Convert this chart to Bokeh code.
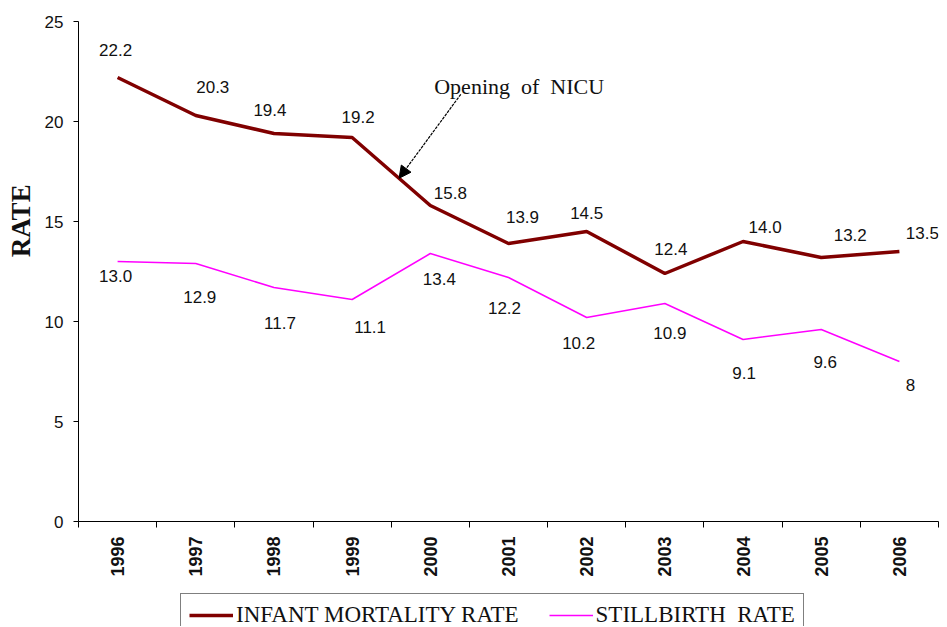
from bokeh.plotting import figure
from bokeh.layouts import column
from bokeh.models import (ColumnDataSource, Range1d, FixedTicker, Arrow, NormalHead,
                          Label, Legend, LegendItem)
from bokeh.core.properties import value
from bokeh.embed import file_html
from bokeh.resources import INLINE

# ---- data ----
years = [1996, 1997, 1998, 1999, 2000, 2001, 2002, 2003, 2004, 2005, 2006]
imr = [22.2, 20.3, 19.4, 19.2, 15.8, 13.9, 14.5, 12.4, 14.0, 13.2, 13.5]
stillbirth = [13.0, 12.9, 11.7, 11.1, 13.4, 12.2, 10.2, 10.9, 9.1, 9.6, 8]
imr_text = ["22.2", "20.3", "19.4", "19.2", "15.8", "13.9", "14.5", "12.4", "14.0", "13.2", "13.5"]
sb_text = ["13.0", "12.9", "11.7", "11.1", "13.4", "12.2", "10.2", "10.9", "9.1", "9.6", "8"]
y_ticks = [0, 5, 10, 15, 20, 25]
series_names = ["INFANT MORTALITY RATE", "STILLBIRTH\u00a0 RATE"]
y_title = "RATE"

# label placement (pixel offsets from each point)
imr_dx = [-2, 17, -4, 6, 20, 14, 0, 6, 22, 29, 23]
imr_dy = [-28, -29, -24, -21, -13, -27, -19, -25, -15, -23, -19]
sb_dx = [-2, 4, 6, 18, 9, -4, -8, 5, 1, 4, 11]
sb_dy = [14, 33, 35, 27, 25, 30, 25, 29, 33, 32, 23]

IMR_COLOR = "#800000"
SB_COLOR = "#FF00FF"
IMR_W = 3.5
SB_W = 1.5

p = figure(width=940, height=590, output_backend="svg", toolbar_location=None,
           x_range=Range1d(years[0] - 0.5, years[-1] + 0.5), y_range=Range1d(0, 25),
           min_border_left=78, min_border_right=2, min_border_top=21, min_border_bottom=69)
p.outline_line_color = None
p.xgrid.visible = False
p.ygrid.visible = False
p.background_fill_color = "white"

src_imr = ColumnDataSource(dict(x=years, y=imr, label=imr_text, dx=imr_dx, dy=imr_dy))
src_sb = ColumnDataSource(dict(x=years, y=stillbirth, label=sb_text, dx=sb_dx, dy=sb_dy))

p.line("x", "y", source=src_imr, line_color=IMR_COLOR, line_width=IMR_W)
p.line("x", "y", source=src_sb, line_color=SB_COLOR, line_width=SB_W)

p.text(x="x", y="y", text="label", x_offset="dx", y_offset="dy", source=src_imr,
       text_align="center", text_baseline="middle", text_color="#111111",
       text_font=value("Liberation Sans"), text_font_size=value("17px"))
p.text(x="x", y="y", text="label", x_offset="dx", y_offset="dy", source=src_sb,
       text_align="center", text_baseline="middle", text_color="#111111",
       text_font=value("Liberation Sans"), text_font_size=value("17px"))

# axes
p.yaxis.ticker = FixedTicker(ticks=y_ticks)
p.yaxis.major_tick_out = 5
p.yaxis.major_tick_in = 0
p.yaxis.minor_tick_line_color = None
p.yaxis.major_label_standoff = 10
p.yaxis.major_label_text_font = "Liberation Sans"
p.yaxis.major_label_text_font_size = "17px"
p.yaxis.major_label_text_color = "#111111"
p.yaxis.axis_line_color = "black"
# leading no-break spaces lift the title above the axis centre, as in the original
p.yaxis.axis_label = "\u00a0" * 15 + y_title
p.yaxis.axis_label_text_font = "Liberation Serif"
p.yaxis.axis_label_text_font_style = "bold"
p.yaxis.axis_label_text_font_size = "27px"
p.yaxis.axis_label_text_color = "#111111"
p.yaxis.axis_label_standoff = 6

p.xaxis.ticker = FixedTicker(ticks=years,
                             minor_ticks=[y - 0.5 for y in years] + [years[-1] + 0.5])
p.xaxis.major_tick_out = 0
p.xaxis.major_tick_in = 0
p.xaxis.minor_tick_out = 6
p.xaxis.minor_tick_in = 0
p.xaxis.minor_tick_line_color = "black"
p.xaxis.major_label_orientation = 3.14159265 / 2
p.xaxis.major_label_standoff = 9
p.xaxis.major_label_text_font = "Liberation Sans"
p.xaxis.major_label_text_font_style = "bold"
p.xaxis.major_label_text_font_size = "18px"
p.xaxis.major_label_text_color = "#111111"
p.xaxis.axis_line_color = "black"

# annotation: opening of NICU
head_x = years[3] + 0.6
head_y = imr[3] + 0.6 * (imr[4] - imr[3])
arrow = Arrow(x_start=head_x + 0.79, y_start=head_y + 4.2, x_end=head_x, y_end=head_y,
              line_color="black", line_width=1.2, line_dash="3 1",
              end=NormalHead(size=12, fill_color="black", line_color="black"))
p.add_layout(arrow)
p.add_layout(Label(x=head_x + 0.45, y=head_y + 4.6, text="Opening\u00a0 of\u00a0 NICU",
                   text_baseline="middle", text_align="left",
                   text_font="Liberation Serif", text_font_size="22px",
                   text_color="#111111"))

# legend strip below the chart
p2 = figure(width=940, height=36, output_backend="svg", toolbar_location=None,
            x_range=Range1d(0, 1), y_range=Range1d(0, 1),
            min_border_left=0, min_border_right=0, min_border_top=0, min_border_bottom=0)
p2.axis.visible = False
p2.grid.visible = False
p2.outline_line_color = None
l1 = p2.line("x", "y", source=src_imr, line_color=IMR_COLOR, line_width=IMR_W)
l2 = p2.line("x", "y", source=src_sb, line_color=SB_COLOR, line_width=SB_W)

legend = Legend(items=[LegendItem(label=series_names[0], renderers=[l1]),
                       LegendItem(label=series_names[1], renderers=[l2])],
                orientation="horizontal", location=(102, -11))
legend.border_line_color = "black"
legend.border_line_width = 1
legend.background_fill_color = "white"
legend.label_text_font = "Liberation Serif"
legend.label_text_font_size = "23px"
legend.label_text_color = "#111111"
legend.glyph_width = 44
legend.spacing = 30
legend.padding = 8
legend.margin = 0
legend.label_standoff = 3
p2.add_layout(legend, "center")

layout = column(p, p2, spacing=0)
open("out.html", "w").write(file_html(layout, INLINE))
